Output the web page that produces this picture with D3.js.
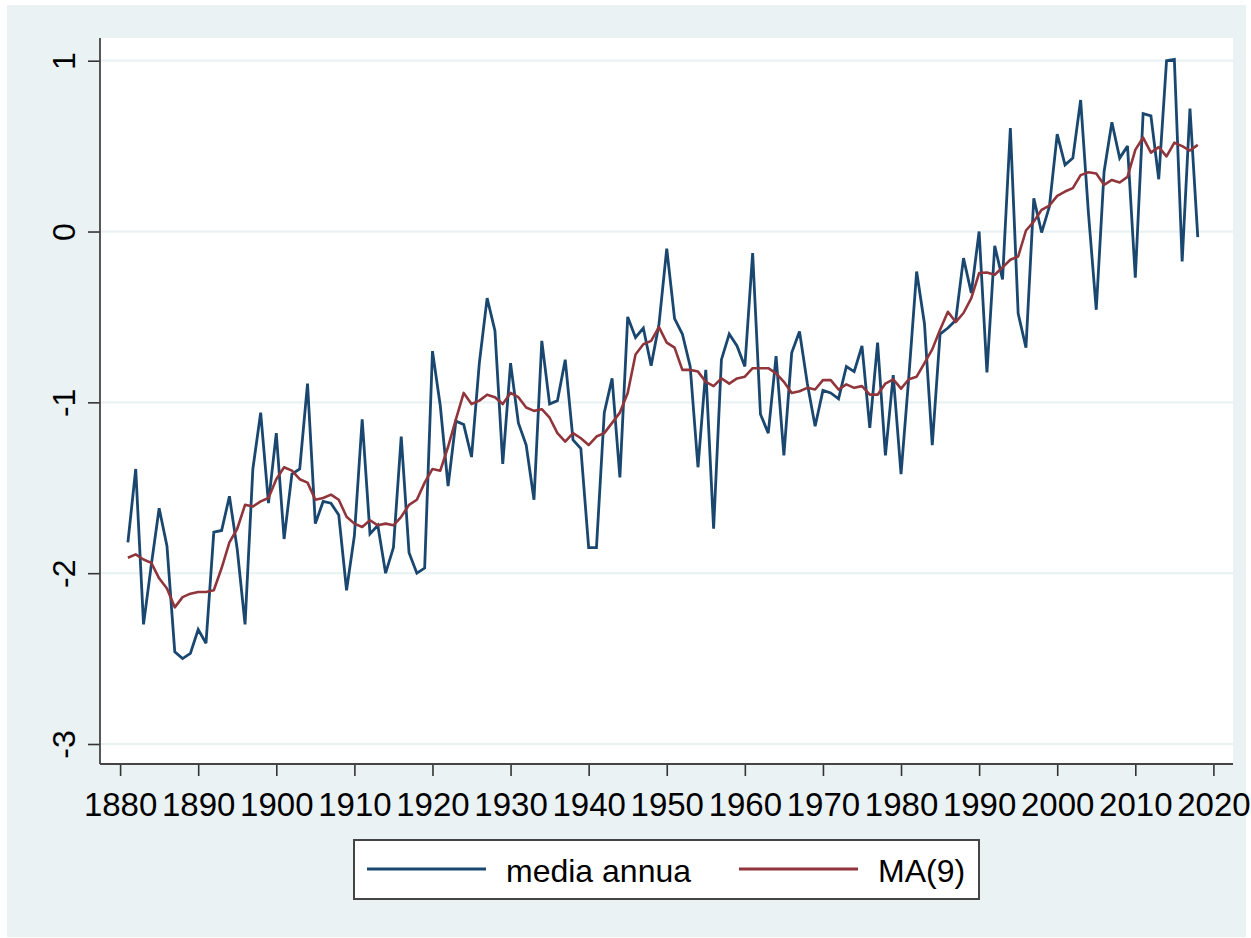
<!DOCTYPE html>
<html>
<head>
<meta charset="utf-8">
<script src="https://cdn.jsdelivr.net/npm/d3@7"></script>
<style>
  html, body { margin: 0; padding: 0; background: #ffffff; }
  svg { display: block; }
  text { font-family: "Liberation Sans", Arial, sans-serif; fill: #000; }
</style>
</head>
<body>
<svg id="chart" width="1251" height="938"></svg>
<script>
// Annual series and its 9-term moving average, 1881-2018
const firstYear = 1881;
const lastYear = 2018;
const years = d3.range(firstYear, lastYear + 1);

const annualMean = [
  -1.82, -1.39, -2.30, -1.95, -1.62, -1.84, -2.46, -2.50, -2.47, -2.33,   // 1881-1890
  -2.41, -1.76, -1.75, -1.55, -1.86, -2.30, -1.39, -1.06, -1.59, -1.18,   // 1891-1900
  -1.80, -1.42, -1.39, -0.89, -1.71, -1.58, -1.59, -1.66, -2.10, -1.78,   // 1901-1910
  -1.10, -1.77, -1.72, -2.00, -1.85, -1.20, -1.88, -2.00, -1.97, -0.70,   // 1911-1920
  -1.02, -1.49, -1.11, -1.13, -1.32, -0.77, -0.39, -0.58, -1.36, -0.77,   // 1921-1930
  -1.12, -1.25, -1.57, -0.64, -1.01, -0.99, -0.75, -1.22, -1.27, -1.85,   // 1931-1940
  -1.85, -1.06, -0.86, -1.44, -0.50, -0.62, -0.565, -0.785, -0.545, -0.10, // 1941-1950
  -0.51, -0.60, -0.79, -1.38, -0.81, -1.74, -0.75, -0.60, -0.67, -0.79,   // 1951-1960
  -0.126, -1.07, -1.18, -0.73, -1.31, -0.71, -0.585, -0.89, -1.14, -0.93, // 1961-1970
  -0.945, -0.98, -0.79, -0.82, -0.67, -1.15, -0.65, -1.31, -0.84, -1.42,  // 1971-1980
  -0.85, -0.234, -0.54, -1.25, -0.60, -0.565, -0.52, -0.156, -0.36, 0.00, // 1981-1990
  -0.825, -0.084, -0.28, 0.605, -0.48, -0.68, 0.195, -0.006, 0.146, 0.57, // 1991-2000
  0.39, 0.43, 0.77, 0.107, -0.458, 0.35, 0.64, 0.43, 0.50, -0.27,         // 2001-2010
  0.69, 0.677, 0.306, 1.00, 1.008, -0.175, 0.72, -0.033                   // 2011-2018
];

const movingAvg9 = [
  -1.91, -1.89, -1.92, -1.94, -2.03, -2.09, -2.20, -2.14, -2.12, -2.11,   // 1881-1890
  -2.11, -2.10, -1.97, -1.82, -1.74, -1.60, -1.61, -1.58, -1.56, -1.45,   // 1891-1900
  -1.38, -1.40, -1.45, -1.47, -1.57, -1.56, -1.54, -1.57, -1.67, -1.71,   // 1901-1910
  -1.73, -1.69, -1.72, -1.71, -1.72, -1.67, -1.60, -1.57, -1.47, -1.39,   // 1911-1920
  -1.40, -1.26, -1.10, -0.945, -1.01, -0.99, -0.955, -0.97, -1.01, -0.945, // 1921-1930
  -0.97, -1.03, -1.05, -1.04, -1.09, -1.18, -1.23, -1.18, -1.21, -1.25,   // 1931-1940
  -1.20, -1.18, -1.12, -1.06, -0.945, -0.72, -0.66, -0.64, -0.56, -0.65,  // 1941-1950
  -0.68, -0.81, -0.81, -0.82, -0.88, -0.905, -0.86, -0.89, -0.86, -0.85,  // 1951-1960
  -0.80, -0.80, -0.80, -0.83, -0.88, -0.945, -0.935, -0.915, -0.925, -0.87, // 1961-1970
  -0.87, -0.925, -0.895, -0.915, -0.905, -0.955, -0.955, -0.89, -0.865, -0.92, // 1971-1980
  -0.865, -0.85, -0.77, -0.69, -0.575, -0.47, -0.53, -0.477, -0.39, -0.243, // 1981-1990
  -0.24, -0.253, -0.21, -0.165, -0.146, 0.006, 0.058, 0.127, 0.152, 0.209, // 1991-2000
  0.234, 0.254, 0.33, 0.347, 0.34, 0.273, 0.302, 0.287, 0.32, 0.478,      // 2001-2010
  0.55, 0.462, 0.494, 0.44, 0.52, 0.50, 0.474, 0.507                      // 2011-2018
];

const xTicks = [1880, 1890, 1900, 1910, 1920, 1930, 1940, 1950, 1960, 1970, 1980, 1990, 2000, 2010, 2020];
const yTicks = [-3, -2, -1, 0, 1];
const seriesNames = ["media annua", "MA(9)"];

const colors = { annual: "#1a476f", ma: "#90353b", bg: "#eaf2f3", grid: "#eaf2f3", axis: "#000000" };

const svg = d3.select("#chart");

// outer graph region
svg.append("rect").attr("x", 7).attr("y", 5).attr("width", 1239).attr("height", 932)
  .attr("fill", colors.bg);

// plot region
const plot = { left: 100, right: 1233, top: 38, bottom: 764 };
svg.append("rect").attr("x", plot.left).attr("y", plot.top)
  .attr("width", plot.right - plot.left).attr("height", plot.bottom - plot.top)
  .attr("fill", "#ffffff");

const x = d3.scaleLinear().domain([1880, 2020]).range([120.1, 1213.4]);
const y = d3.scaleLinear().domain([-3, 1]).range([744, 60.7]);

// horizontal grid lines
svg.append("g").selectAll("line").data(yTicks).join("line")
  .attr("x1", plot.left).attr("x2", plot.right)
  .attr("y1", d => y(d)).attr("y2", d => y(d))
  .attr("stroke", colors.grid).attr("stroke-width", 2.2);

// series lines
const lineYear = d3.line().x((d, i) => x(years[i])).y(d => y(d));
svg.append("path").datum(annualMean).attr("d", lineYear)
  .attr("fill", "none").attr("stroke", colors.annual).attr("stroke-width", 2.8)
  .attr("stroke-linejoin", "miter").attr("stroke-miterlimit", 3);

svg.append("path").datum(movingAvg9).attr("d", lineYear)
  .attr("fill", "none").attr("stroke", colors.ma).attr("stroke-width", 2.6)
  .attr("stroke-linejoin", "round");

// y axis
const yAxis = d3.axisLeft(y).tickValues(yTicks).tickSize(12).tickFormat(d3.format("d"));
const gy = svg.append("g").attr("transform", `translate(${plot.left},0)`).call(yAxis);
gy.select(".domain").remove();
gy.selectAll(".tick line").attr("stroke", "#333").attr("stroke-width", 1.6);
gy.selectAll(".tick text")
  .attr("x", null).attr("dy", null)
  .attr("transform", "translate(-25,0) rotate(-90)")
  .attr("text-anchor", "middle")
  .style("font-size", "32px")
  .style("font-family", "'Liberation Sans', Arial, sans-serif")
  .text(d => d < 0 ? "-" + Math.abs(d) : d);
svg.append("line").attr("x1", plot.left).attr("x2", plot.left)
  .attr("y1", plot.top).attr("y2", plot.bottom)
  .attr("stroke", "#444").attr("stroke-width", 1.8);

// x axis
const xAxis = d3.axisBottom(x).tickValues(xTicks).tickSize(12).tickFormat(d3.format("d"));
const gx = svg.append("g").attr("transform", `translate(0,${plot.bottom})`).call(xAxis);
gx.select(".domain").remove();
gx.selectAll(".tick line").attr("stroke", "#333").attr("stroke-width", 1.6);
gx.selectAll(".tick text")
  .attr("y", 52).attr("dy", null)
  .style("font-size", "33px")
  .style("font-family", "'Liberation Sans', Arial, sans-serif");
svg.append("line").attr("x1", plot.left).attr("x2", plot.right)
  .attr("y1", plot.bottom).attr("y2", plot.bottom)
  .attr("stroke", "#444").attr("stroke-width", 1.8);

// legend
const legend = svg.append("g");
legend.append("rect").attr("x", 354).attr("y", 840).attr("width", 625).attr("height", 59)
  .attr("fill", "#ffffff").attr("stroke", "#444").attr("stroke-width", 2);
const legendItems = [
  { name: seriesNames[0], color: colors.annual, x0: 367, x1: 486, tx: 506 },
  { name: seriesNames[1], color: colors.ma, x0: 739, x1: 858, tx: 878 }
];
legendItems.forEach(it => {
  legend.append("line").attr("x1", it.x0).attr("x2", it.x1).attr("y1", 869).attr("y2", 869)
    .attr("stroke", it.color).attr("stroke-width", 2.8);
  legend.append("text").attr("x", it.tx).attr("y", 881.5)
    .style("font-size", "32px").text(it.name);
});
</script>
</body>
</html>
